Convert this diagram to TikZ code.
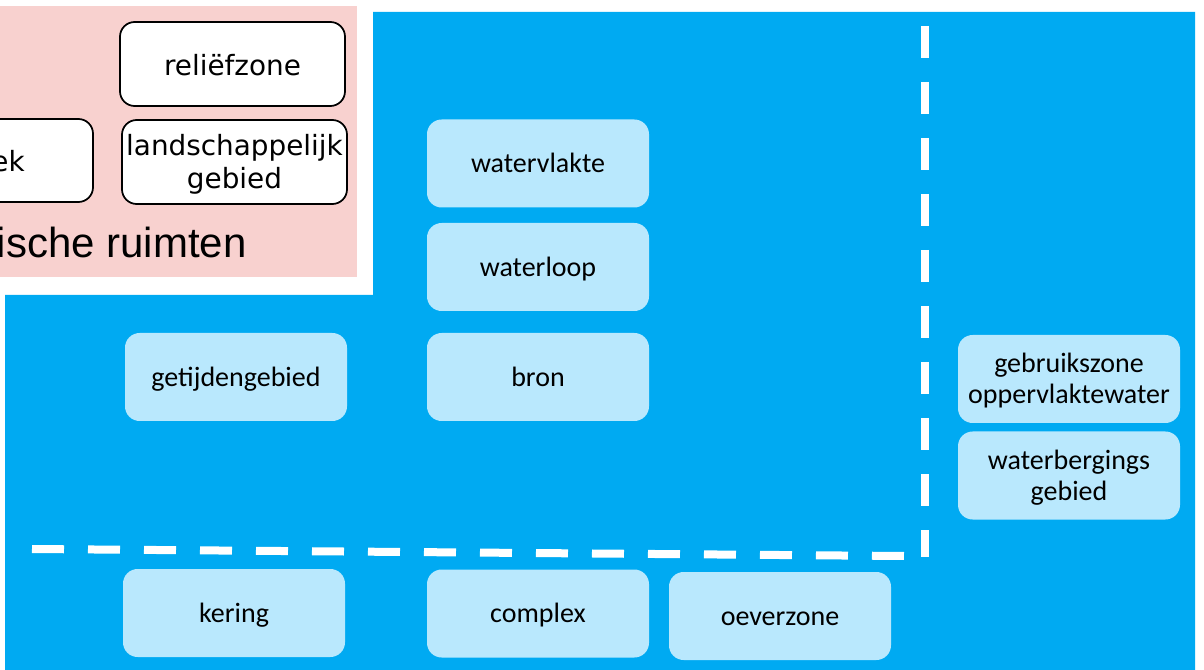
\documentclass[tikz,border=0pt]{standalone}
\usepackage{fontspec}
\setmainfont{Carlito}
\newfontfamily\verdanafont{DejaVu Sans}
\newfontfamily\arialfont{Liberation Sans}
\definecolor{sea}{HTML}{00AAF2}
\definecolor{pale}{HTML}{B9E8FD}
\definecolor{blush}{HTML}{F8D1CF}

\begin{document}
\begin{tikzpicture}[x=0.75pt,y=-0.75pt,
  lightbox/.style={fill=pale, rounded corners=11pt, minimum width=166.5pt,
    minimum height=66pt, inner sep=0pt, align=center,
    text height=16.2pt, text depth=2pt,
    font=\fontsize{21}{23.25}\selectfont},
  twoline/.style={text height=39.45pt, text depth=2pt},
  whitebox/.style={fill=white, draw=black, line width=1.3pt, rounded corners=11pt,
    minimum width=168.75pt, minimum height=63pt, inner sep=0pt, align=center,
    text height=19.2pt, text depth=2pt,
    font=\verdanafont\fontsize{20.9}{24.5}\selectfont},
  whitetwo/.style={text height=41.5pt, text depth=2pt},
  divider/.style={white, line width=6pt, dash pattern=on 24pt off 18pt}]

\useasboundingbox (0,0) rectangle (1204,670);
\fill[white] (0,0) rectangle (1204,670);

% pink panel of the left-hand category
\fill[blush] (0,6) rectangle (357,277);
% blue water panel
\fill[sea] (5,295) -- (373,295) -- (373,12) -- (1195,12) -- (1195,670) -- (5,670) -- cycle;

% white boxes in the pink panel
\node[whitebox] (relief) at (232.5,64) {reli\"efzone};
\node[whitebox, whitetwo] (landschap) at (234.5,162) {landschappelijk\\gebied};
\draw[fill=white, draw=black, line width=1.3pt, rounded corners=11pt]
  (-140,119) rectangle (93,202);
\node[anchor=base east, inner sep=0pt, font=\verdanafont\fontsize{20.9}{24}\selectfont]
  (ek) at (25,172) {ek};
\node[anchor=base east, inner sep=0pt, font=\arialfont\fontsize{31.5}{36}\selectfont]
  (ruimten) at (247,258) {ische ruimten};

% light boxes in the blue panel
\node[lightbox] (watervlakte) at (538,163.5) {watervlakte};
\node[lightbox] (waterloop) at (538,267) {waterloop};
\node[lightbox] (bron) at (538,377) {bron};
\node[lightbox] (getij) at (236,377) {getijdengebied};
\node[lightbox, twoline] (gebruik) at (1069,379) {gebruikszone\\oppervlaktewater};
\node[lightbox, twoline] (berging) at (1069,475.5) {waterbergings\\gebied};
\node[lightbox] (kering) at (234,613) {kering};
\node[lightbox] (complex) at (538,613.5) {complex};
\node[lightbox] (oever) at (780,616) {oeverzone};

% dashed dividers
\coordinate (hstart) at (32,549);
\coordinate (hend) at (904,556);
\coordinate (vstart) at (925,26);
\coordinate (vend) at (925,557);
\draw[divider] (hstart) -- (hend);
\draw[divider] (vstart) -- (vend);
\end{tikzpicture}
\end{document}
